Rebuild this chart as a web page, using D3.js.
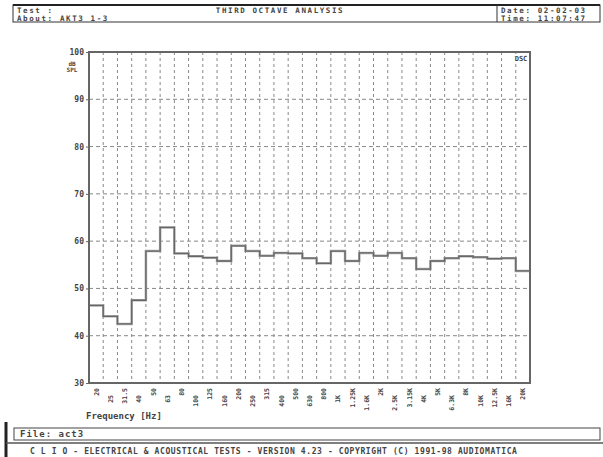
<!DOCTYPE html>
<html>
<head>
<meta charset="utf-8">
<script src="https://cdn.jsdelivr.net/npm/d3@7"></script>
<style>
  body { margin: 0; background: #fff; }
  svg text { font-family: "DejaVu Sans Mono", monospace; font-weight: bold; fill: #444; }
</style>
</head>
<body>
<div id="chart"></div>
<script>
/* Third octave analysis — CLIO style plot */
const freqLabels = ['20', '25', '31.5', '40', '50', '63', '80', '100', '125', '160', '200', '250', '315', '400', '500', '630',
  '800', '1K', '1.25K', '1.6K', '2K', '2.5K', '3.15K', '4K', '5K', '6.3K', '8K', '10K', '12.5K', '16K', '20K'];
const levels = [46.4, 44.1, 42.5, 47.5, 57.9, 62.9, 57.4, 56.8, 56.5, 55.8, 59.0, 57.9, 56.9, 57.5, 57.4, 56.4,
  55.3, 57.9, 55.8, 57.5, 56.9, 57.5, 56.4, 54.1, 55.8, 56.4, 56.8, 56.6, 56.3, 56.4, 53.7];
const yTicks = [30, 40, 50, 60, 70, 80, 90, 100];

const W = 603, H = 457;
const plot = { left: 89, right: 530, top: 52, bottom: 383 };

const svg = d3.select('#chart').append('svg').attr('width', W).attr('height', H);

// header
svg.append('rect').attr('x', 13).attr('y', 5).attr('width', 587).attr('height', 17)
  .attr('fill', 'none').attr('stroke', '#333').attr('stroke-width', 1);
svg.append('line').attr('x1', 13).attr('x2', 600).attr('y1', 5).attr('y2', 5).attr('stroke', '#222').attr('stroke-width', 2);
svg.append('line').attr('x1', 497).attr('x2', 497).attr('y1', 5).attr('y2', 22).attr('stroke', '#333');
const hdr = svg.append('g').attr('font-size', '7.5px').attr('letter-spacing', '1.6px');
hdr.append('text').attr('x', 17).attr('y', 12.5).text('Test :');
hdr.append('text').attr('x', 17).attr('y', 20.5).text('About:');
hdr.append('text').attr('x', 60).attr('y', 20.5).text('AKT3 1-3');
hdr.append('text').attr('x', 280).attr('y', 12.5).attr('text-anchor', 'middle').text('THIRD OCTAVE ANALYSIS');
hdr.append('text').attr('x', 501).attr('y', 12.5).text('Date: 02-02-03');
hdr.append('text').attr('x', 501).attr('y', 20.5).text('Time: 11:07:47');

// scales
const x = d3.scaleBand().domain(freqLabels).range([plot.left, plot.right]);
const y = d3.scaleLinear().domain([30, 100]).range([plot.bottom, plot.top]);

// grid
svg.append('g').selectAll('line').data(freqLabels.slice(1)).enter().append('line')
  .attr('x1', d => x(d)).attr('x2', d => x(d))
  .attr('y1', plot.top).attr('y2', plot.bottom)
  .attr('stroke', '#888').attr('stroke-width', 1).attr('stroke-dasharray', '3,3');
svg.append('g').selectAll('line').data(yTicks.slice(1, -1)).enter().append('line')
  .attr('x1', plot.left).attr('x2', plot.right)
  .attr('y1', d => y(d)).attr('y2', d => y(d))
  .attr('stroke', '#888').attr('stroke-width', 1).attr('stroke-dasharray', '4,3');

// y axis labels
const yAxis = svg.append('g').attr('transform', `translate(${plot.left},0)`)
  .call(d3.axisLeft(y).tickValues(yTicks).tickSize(3).tickPadding(2));
yAxis.select('.domain').remove();
yAxis.selectAll('line').attr('stroke', '#666');
yAxis.selectAll('text').attr('font-size', '8px').attr('font-family', 'DejaVu Sans Mono').attr('fill', '#555');
svg.append('text').attr('x', 72).attr('y', 66).attr('font-size', '6px').attr('text-anchor', 'middle').text('dB');
svg.append('text').attr('x', 72).attr('y', 72).attr('font-size', '6px').attr('text-anchor', 'middle').text('SPL');

// x labels (staggered, vertical)
svg.append('g').selectAll('text').data(freqLabels).enter().append('text')
  .attr('transform', (d, i) => `translate(${x(d) + x.bandwidth() / 2 + 2.5},${i % 2 === 0 ? 388 : 395}) rotate(-90)`)
  .attr('text-anchor', 'end').attr('font-size', '6.5px').attr('fill', '#555')
  .text(d => d);
svg.append('text').attr('x', 86).attr('y', 419).attr('font-size', '9px').text('Frequency [Hz]');

// step line
const pts = levels.map((v, i) => ({ x: x(freqLabels[i]), v }));
pts.push({ x: plot.right, v: levels[levels.length - 1] });
const line = d3.line().x(d => d.x).y(d => y(d.v)).curve(d3.curveStepAfter);
svg.append('path').datum(pts).attr('fill', 'none').attr('stroke', '#aaa').attr('stroke-width', 2.5).attr('d', line);
svg.append('path').datum(pts).attr('fill', 'none').attr('stroke', '#666').attr('stroke-width', 1.3).attr('d', line);

// frame
svg.append('rect').attr('x', plot.left).attr('y', plot.top)
  .attr('width', plot.right - plot.left).attr('height', plot.bottom - plot.top)
  .attr('fill', 'none').attr('stroke', '#666').attr('stroke-width', 2);
svg.append('rect').attr('x', 513).attr('y', 54).attr('width', 16).attr('height', 8).attr('fill', '#fff');
svg.append('text').attr('x', 521).attr('y', 61).attr('text-anchor', 'middle').attr('font-size', '7px').text('DSC');

// footer
svg.append('line').attr('x1', 6).attr('x2', 6).attr('y1', 422).attr('y2', H).attr('stroke', '#222').attr('stroke-width', 3);
svg.append('rect').attr('x', 14).attr('y', 428).attr('width', 586).attr('height', 12)
  .attr('fill', 'none').attr('stroke', '#444').attr('stroke-width', 1);
svg.append('text').attr('x', 20).attr('y', 437).attr('font-size', '9px').attr('letter-spacing', '1px').text('File: act3');
svg.append('line').attr('x1', 6).attr('x2', W).attr('y1', 443).attr('y2', 443).attr('stroke', '#555').attr('stroke-width', 1.5);
svg.append('text').attr('x', 30).attr('y', 454).attr('font-size', '8px').attr('letter-spacing', '0.6px')
  .text('C L I O  -  ELECTRICAL & ACOUSTICAL TESTS  -  VERSION 4.23  -  COPYRIGHT (C) 1991-98 AUDIOMATICA');
</script>
</body>
</html>
